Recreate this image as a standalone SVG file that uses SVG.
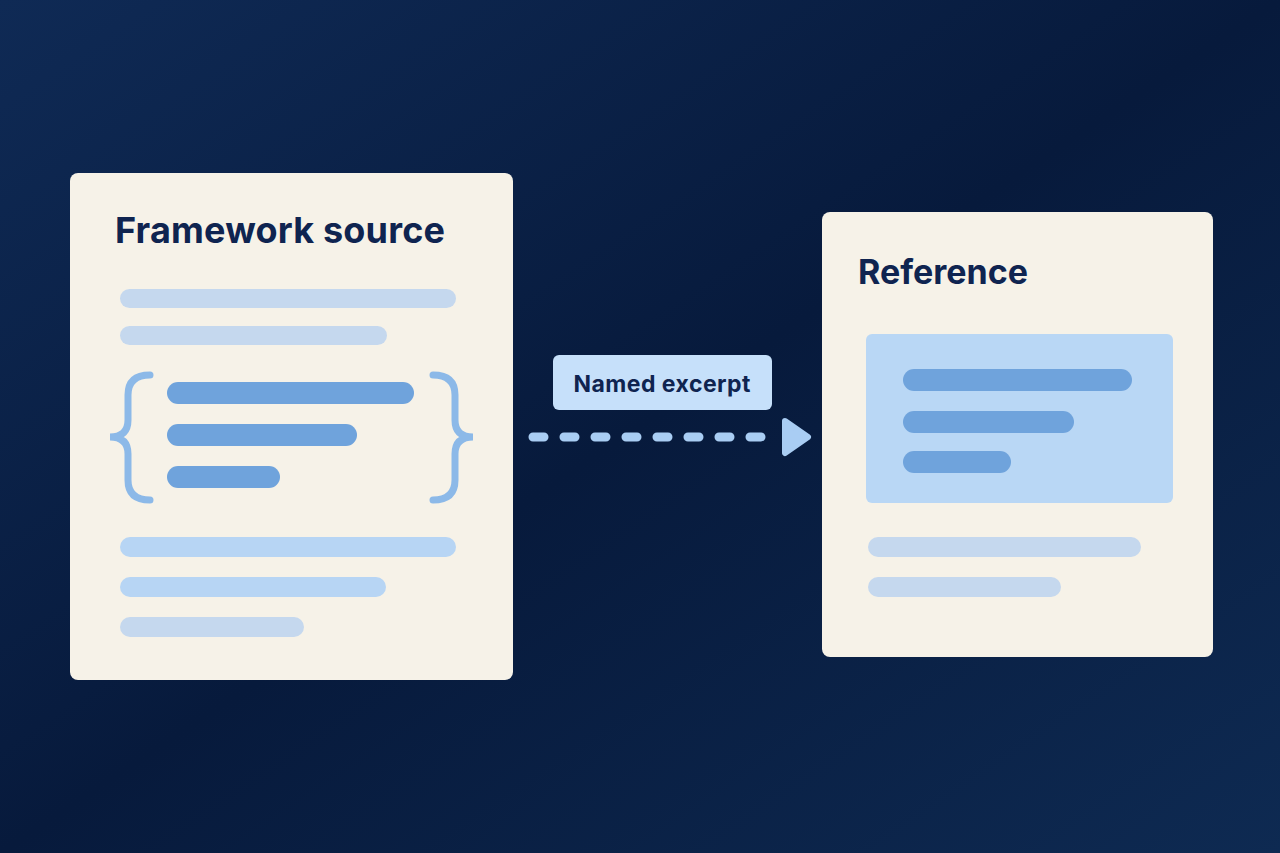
<svg xmlns="http://www.w3.org/2000/svg" width="1280" height="853" viewBox="0 0 1280 853">
<defs>
<style>
.card{fill:#f6f2e8}
.t{font-family:Inter,"Liberation Sans",sans-serif;font-weight:700;fill:#0f2450}
.pale{fill:#c5d8ee}
.mid{fill:#b7d5f4}
.dark{fill:#6fa3dc}
</style>
<linearGradient id="bg" x1="0" y1="0" x2="1" y2="1">
<stop offset="0" stop-color="#0f2a55"/><stop offset="0.5" stop-color="#071a3c"/><stop offset="1" stop-color="#0e2a52"/>
</linearGradient>
</defs>
<rect width="1280" height="853" fill="url(#bg)"/>
<g id="source">
<rect class="card" x="70" y="173" width="443" height="507" rx="8"/>
<text class="t" x="115" y="243" font-size="36" textLength="330">Framework source</text>
<rect class="pale" x="120" y="289" width="336" height="19" rx="9.5"/>
<rect class="pale" x="120" y="326" width="267" height="19" rx="9.5"/>
<path d="M150,375 Q128,375 128,395 L128,420 Q128,437 110,437 Q128,437 128,454 L128,480 Q128,500 150,500" fill="none" stroke="#8cb9e8" stroke-width="7" stroke-linecap="round"/>
<path d="M433,375 Q455,375 455,395 L455,420 Q455,437 473,437 Q455,437 455,454 L455,480 Q455,500 433,500" fill="none" stroke="#8cb9e8" stroke-width="7" stroke-linecap="round"/>
<rect class="dark" x="167" y="382" width="247" height="22" rx="11"/>
<rect class="dark" x="167" y="424" width="190" height="22" rx="11"/>
<rect class="dark" x="167" y="466" width="113" height="22" rx="11"/>
<rect class="mid" x="120" y="537" width="336" height="20" rx="10"/>
<rect class="mid" x="120" y="577" width="266" height="20" rx="10"/>
<rect class="pale" x="120" y="617" width="184" height="20" rx="10"/>
</g>
<g id="reference">
<rect class="card" x="822" y="212" width="391" height="445" rx="8"/>
<text class="t" x="858" y="284" font-size="34" textLength="170">Reference</text>
<rect fill="#b9d7f5" x="866" y="334" width="307" height="169" rx="6"/>
<rect class="dark" x="903" y="369" width="229" height="22" rx="11"/>
<rect class="dark" x="903" y="411" width="171" height="22" rx="11"/>
<rect class="dark" x="903" y="451" width="108" height="22" rx="11"/>
<rect class="pale" x="868" y="537" width="273" height="20" rx="10"/>
<rect class="pale" x="868" y="577" width="193" height="20" rx="10"/>
</g>
<g id="connectors">
<line x1="533" y1="437" x2="770" y2="437" stroke="#a9cdf3" stroke-width="9" stroke-linecap="round" stroke-dasharray="11 20"/>
<path d="M785,421 L808,437 L785,453 Z" fill="#a9cdf3" stroke="#a9cdf3" stroke-width="6" stroke-linejoin="round"/>
</g>
<g id="label">
<rect fill="#c6e0fa" x="553" y="355" width="219" height="55" rx="6"/>
<text class="t" x="662" y="392" font-size="23" text-anchor="middle" font-weight="600" textLength="177">Named excerpt</text>
</g>
</svg>
